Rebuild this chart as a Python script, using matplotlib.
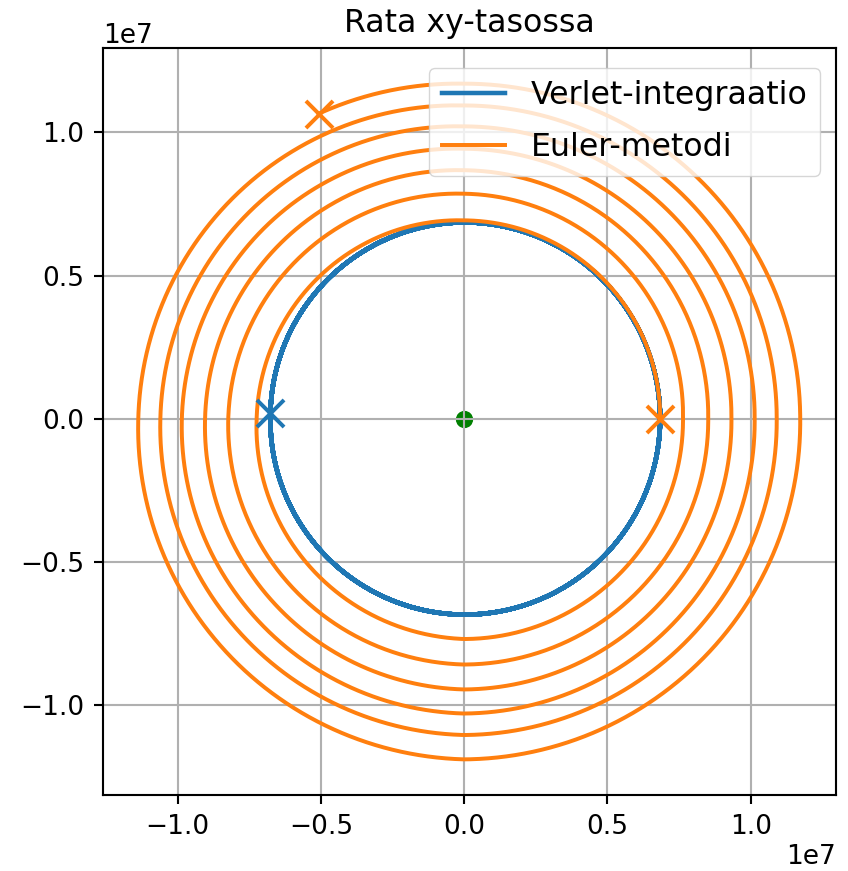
import numpy as np
import matplotlib
matplotlib.use("Agg")
import matplotlib.pyplot as plt

# ---- data (units: 1e7 m) ----
# Euler method: radius of the orbit every quarter turn (angle in degrees, counter-clockwise)
euler_angle_deg = [0, 90, 180, 270, 360, 450, 540, 630, 720, 810, 900, 990, 1080,
                   1170, 1260, 1350, 1440, 1530, 1620, 1710, 1800, 1890, 1980, 2070,
                   2160, 2250, 2275.5]
euler_radius = [0.684, 0.693, 0.724, 0.768, 0.764, 0.786, 0.823, 0.857, 0.852, 0.868,
                0.904, 0.944, 0.933, 0.943, 0.985, 1.028, 1.014, 1.021, 1.060, 1.103,
                1.091, 1.094, 1.137, 1.188, 1.173, 1.170, 1.180]

# Verlet integration: nearly circular orbit, radius every quarter turn
verlet_angle_deg = [0, 90, 180, 270, 360]
verlet_radius = [0.684, 0.686, 0.676, 0.683, 0.684]
verlet_turns = 9
verlet_end_angle_deg = 178.3

scale = 1e7
labels = ["Verlet-integraatio", "Euler-metodi"]
title = "Rata xy-tasossa"

# ---- build curves ----
th_e = np.radians(np.linspace(euler_angle_deg[0], euler_angle_deg[-1], 6000))
r_e = np.interp(th_e, np.radians(euler_angle_deg), euler_radius) * scale
xe, ye = r_e * np.cos(th_e), r_e * np.sin(th_e)

th_v = np.radians(np.linspace(0, 360 * verlet_turns + verlet_end_angle_deg, 20000))
r_v = np.interp(np.mod(th_v, 2 * np.pi), np.radians(verlet_angle_deg), verlet_radius) * scale
xv, yv = r_v * np.cos(th_v), r_v * np.sin(th_v)

k = 1.9  # overall size scale of the reference
plt.rcParams.update({
    "font.size": 10 * k,
    "axes.linewidth": 0.8 * k,
    "grid.linewidth": 0.8 * k,
    "xtick.major.size": 3.5 * k, "ytick.major.size": 3.5 * k,
    "xtick.major.width": 0.8 * k, "ytick.major.width": 0.8 * k,
    "xtick.major.pad": 3.5 * k, "ytick.major.pad": 3.5 * k,
    "legend.fontsize": 12 * k,
})

fig = plt.figure(figsize=(8.48, 8.71), dpi=100)
ax = fig.add_axes([0.1215, 0.0861, 0.8644, 0.8599])

ax.plot(xv, yv, color="#1f77b4", lw=1.7 * k, label=labels[0])
ax.plot(xe, ye, color="#ff7f0e", lw=1.5 * k, label=labels[1])
ax.scatter([xv[-1]], [yv[-1]], marker="x", s=380, color="#1f77b4", linewidths=1.5 * k, zorder=3)
ax.scatter([xe[0], xe[-1]], [ye[0], ye[-1]], marker="x", s=380, color="#ff7f0e",
           linewidths=1.5 * k, zorder=3)
ax.scatter([0], [0], s=130, color="green", zorder=1)

ax.set_xlim(-1.26e7, 1.298e7)
ax.set_ylim(-1.314e7, 1.296e7)
ax.set_aspect("equal", adjustable="box")
ax.grid(True)
ax.set_title(title, fontsize=12 * k, pad=11)
ax.legend(loc="upper right", bbox_to_anchor=(0.978, 0.973), borderaxespad=0,
          labelspacing=0.65)

fig.savefig("out.png", dpi=100)
